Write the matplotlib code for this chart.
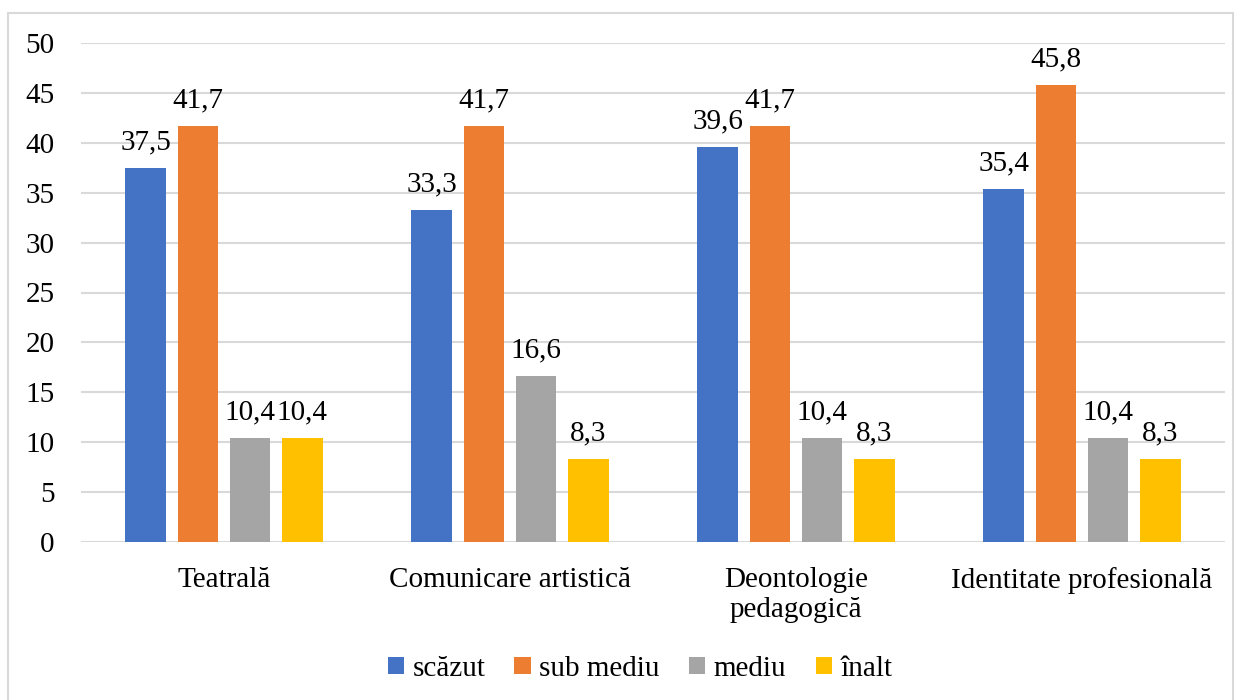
import numpy as np
import matplotlib
matplotlib.use("Agg")
import matplotlib.pyplot as plt
from matplotlib.patches import Rectangle

plt.rcParams['font.family'] = ['Liberation Serif', 'DejaVu Serif']

categories = ["Teatrală", "Comunicare artistică", "Deontologie\npedagogică", "Identitate profesională"]
series_names = ["scăzut", "sub mediu", "mediu", "înalt"]
scazut = [37.5, 33.3, 39.6, 35.4]
sub_mediu = [41.7, 41.7, 41.7, 45.8]
mediu = [10.4, 16.6, 10.4, 10.4]
inalt = [10.4, 8.3, 8.3, 8.3]
colors = ["#4472C4", "#ED7D31", "#A5A5A5", "#FFC000"]

FS = 21


def fmt(v):
    return f"{v:.1f}".replace(".", ",")


fig = plt.figure(figsize=(12.41, 7), dpi=100)
ax = fig.add_axes([81/1241, 158/700, 1144/1241, 499/700])

x = np.arange(len(categories))
width = 0.143
pitch = 0.182
all_series = [scazut, sub_mediu, mediu, inalt]
for i, vals in enumerate(all_series):
    pos = x + (i - 1.5) * pitch
    ax.bar(pos, vals, width, color=colors[i], label=series_names[i], zorder=3)
    for p, v in zip(pos, vals):
        ax.annotate(fmt(v), (p, v), xytext=(0, 13.5), textcoords="offset points",
                    ha="center", va="baseline", fontsize=FS)

ax.set_xlim(-0.5, len(categories) - 0.5)
ax.set_ylim(0, 50)
ax.set_yticks(range(0, 51, 5))
ax.set_xticks(x)
ax.set_xticklabels(categories, fontsize=FS, linespacing=1.2)
ax.tick_params(axis="y", labelsize=FS, length=0, pad=19)
ax.tick_params(axis="x", length=0, pad=18)
ax.grid(axis="y", color="#d9d9d9", linewidth=1.5, zorder=0)
for s in ax.spines.values():
    s.set_visible(False)

fig.legend(loc="center", bbox_to_anchor=(640/1241, 31/700), ncol=4, frameon=False,
           fontsize=FS, handlelength=0.55, handleheight=0.55, handletextpad=0.3,
           columnspacing=1.0)

fig.patches.append(Rectangle((8/1241, -0.01), 1225/1241, (687 + 7)/700,
                             transform=fig.transFigure, fill=False,
                             edgecolor="#d9d9d9", linewidth=1.5))

fig.savefig("out.png", dpi=100)
